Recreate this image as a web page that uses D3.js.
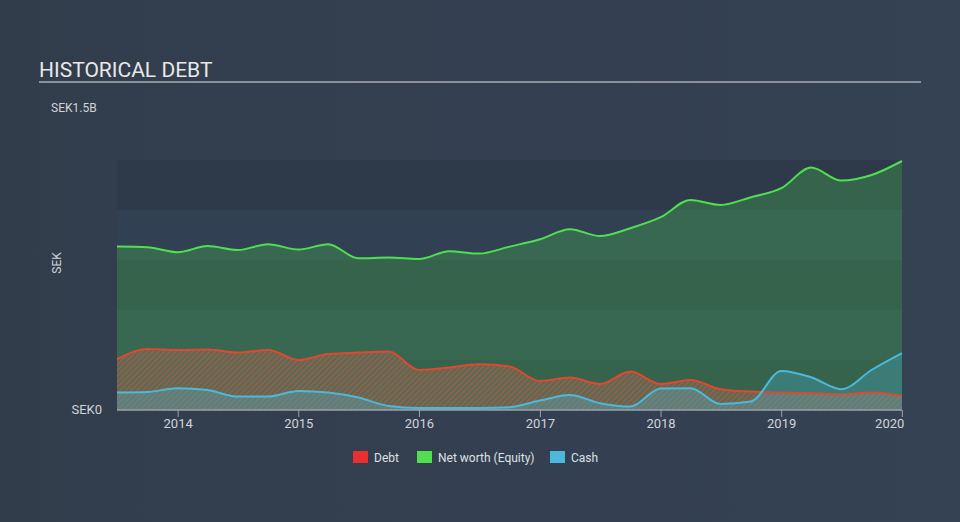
<!DOCTYPE html>
<html>
<meta charset="utf-8">
<style>
 body { margin: 0; background: #333f4f; }
 text { font-family: Roboto, "Open Sans", sans-serif; }
 #title_text { font-size: 21px; fill: #e8e8e8; }
 .tick_text { font-size: 13px; fill: #d0d4d9; }
 .small_text { font-size: 12px; fill: #d0d4d9; }
 .legend_text { font-size: 12px; fill: #dde0e4; }
</style>
<body>
  <script src="https://d3js.org/d3.v7.min.js" charset="utf-8"></script>
  <script>

var width = 960
var height = 522

// quarterly reporting dates
var dates = ["2013-06-30","2013-09-30","2013-12-31","2014-03-31","2014-06-30","2014-09-30","2014-12-31",
  "2015-03-31","2015-06-30","2015-09-30","2015-12-31","2016-03-31","2016-06-30","2016-09-30","2016-12-31",
  "2017-03-31","2017-06-30","2017-09-30","2017-12-31","2018-03-31","2018-06-30","2018-09-30","2018-12-31",
  "2019-03-31","2019-06-30","2019-09-30","2019-12-31"]

// values in SEK billions
var netWorth = [0.817,0.814,0.789,0.82,0.80,0.829,0.802,0.829,0.759,0.762,0.755,0.794,0.782,0.817,0.854,
  0.904,0.87,0.909,0.964,1.05,1.025,1.064,1.109,1.212,1.147,1.175,1.245]
var debt = [0.254,0.305,0.30,0.302,0.287,0.30,0.25,0.28,0.287,0.292,0.20,0.212,0.229,0.217,0.145,
  0.162,0.13,0.192,0.13,0.15,0.104,0.092,0.087,0.084,0.079,0.087,0.07]
var cash = [0.087,0.09,0.109,0.10,0.067,0.067,0.095,0.087,0.062,0.02,0.01,0.01,0.01,0.014,0.047,
  0.075,0.034,0.017,0.107,0.109,0.03,0.042,0.195,0.164,0.104,0.20,0.284]

var xTicks = ["2014","2015","2016","2017","2018","2019","2020"]
var bands = [0, 0.25, 0.5, 0.75, 1.0]
var legendItems = ["Debt", "Net worth (Equity)", "Cash"]
var legendColors = ["#e8312f", "#4fe04f", "#4ab9dc"]

var parse = d3.timeParse("%Y-%m-%d")
var data = dates.map(function (d, i) {
  return { date: parse(d), nw: netWorth[i], debt: debt[i], cash: cash[i] };
});

var svg = d3.select("body")
  .append("svg")
  .attr("width", width)
  .attr("height", height);

var defs = svg.append("defs");
var bg = defs.append("linearGradient").attr("id", "bg").attr("x1", 0).attr("x2", 1);
bg.append("stop").attr("offset", 0).attr("stop-color", "#323d4c");
bg.append("stop").attr("offset", 1).attr("stop-color", "#354254");
svg.append("rect").attr("width", width).attr("height", height).attr("fill", "url(#bg)");

// hatch for debt
var pat = defs.append("pattern")
  .attr("id", "hatch")
  .attr("width", 4).attr("height", 4)
  .attr("patternUnits", "userSpaceOnUse")
  .attr("patternTransform", "rotate(45)");
pat.append("rect").attr("width", 4).attr("height", 4).attr("fill", "#557060");
pat.append("rect").attr("width", 1.6).attr("height", 4).attr("fill", "#c0583a");

var x = d3.scaleTime()
  .domain([parse("2013-06-30"), parse("2019-12-31")])
  .range([117, 902]);
var y = d3.scaleLinear()
  .domain([0, 1.5])
  .range([410, 110]);

// background bands
svg.selectAll("rect.band")
  .data(bands)
  .enter()
  .append("rect")
    .attr("class", "band")
    .attr("x", 117)
    .attr("width", 785)
    .attr("y", function (d) { return y(d + 0.25); })
    .attr("height", y(0) - y(0.25))
    .attr("fill", function (d, i) { return i % 2 == 0 ? "#2e3a4a" : "#314052"; });

var curve = d3.curveMonotoneX;

function area(key) {
  return d3.area().curve(curve)
    .x(function (d) { return x(d.date); })
    .y0(y(0))
    .y1(function (d) { return y(d[key]); });
}
function line(key) {
  return d3.line().curve(curve)
    .x(function (d) { return x(d.date); })
    .y(function (d) { return y(d[key]); });
}

svg.append("path").datum(data).attr("d", area("nw"))
  .attr("fill", "#4fe04f").attr("fill-opacity", 0.25);
svg.append("path").datum(data).attr("d", area("debt"))
  .attr("fill", "url(#hatch)").attr("opacity", 0.8);
svg.append("path").datum(data).attr("d", area("cash"))
  .attr("fill", "#4ab9dc").attr("fill-opacity", 0.3);

svg.append("path").datum(data).attr("d", line("nw"))
  .attr("fill", "none").attr("stroke", "#4fe04f").attr("stroke-width", 2);
svg.append("path").datum(data).attr("d", line("debt"))
  .attr("fill", "none").attr("stroke", "#e0482f").attr("stroke-width", 2);
svg.append("path").datum(data).attr("d", line("cash"))
  .attr("fill", "none").attr("stroke", "#4ab9dc").attr("stroke-width", 2);

// x axis
svg.append("line")
  .attr("x1", 117).attr("x2", 902)
  .attr("y1", y(0)).attr("y2", y(0))
  .attr("stroke", "#9aa3ad").attr("stroke-width", 1.5);

var tickDates = xTicks.map(function (t) { return parse(t + "-01-01"); });
svg.selectAll("line.tick")
  .data(tickDates)
  .enter()
  .append("line")
    .attr("class", "tick")
    .attr("x1", function (d) { return x(d); })
    .attr("x2", function (d) { return x(d); })
    .attr("y1", y(0)).attr("y2", y(0) + 7)
    .attr("stroke", "#9aa3ad").attr("stroke-width", 1);
svg.selectAll("text.xtick")
  .data(xTicks)
  .enter()
  .append("text")
    .attr("class", "tick_text")
    .attr("text-anchor", function (d, i) { return i == xTicks.length - 1 ? "end" : "middle"; })
    .attr("x", function (d, i) { return i == xTicks.length - 1 ? x(tickDates[i]) + 2 : x(tickDates[i]); })
    .attr("y", 428)
    .text(function (d) { return d; });

// y labels
svg.append("text").attr("class", "small_text")
  .attr("x", 51).attr("y", y(1.5) + 2)
  .text("SEK1.5B");
svg.append("text").attr("class", "tick_text")
  .attr("text-anchor", "end")
  .attr("x", 102).attr("y", y(0) + 4)
  .text("SEK0");
svg.append("text").attr("class", "small_text")
  .attr("text-anchor", "middle")
  .attr("transform", "translate(61,263) rotate(-90)")
  .text("SEK");

// title
svg.append("text")
  .attr("id", "title_text")
  .attr("x", 39)
  .attr("y", 77)
  .text("HISTORICAL DEBT");
svg.append("line")
  .attr("x1", 39).attr("x2", 921)
  .attr("y1", 82).attr("y2", 82)
  .attr("stroke", "#a9adb3").attr("stroke-width", 1.5);

// legend
var legendX = [353, 417, 550];
var lg = svg.selectAll("g.legend")
  .data(legendItems)
  .enter()
  .append("g")
    .attr("class", "legend")
    .attr("transform", function (d, i) { return "translate(" + legendX[i] + ",451)"; });
lg.append("rect")
  .attr("width", 15).attr("height", 12)
  .attr("fill", function (d, i) { return legendColors[i]; });
lg.append("text")
  .attr("class", "legend_text")
  .attr("x", 21).attr("y", 10.5)
  .text(function (d) { return d; });

  </script>
</body>
</html>
